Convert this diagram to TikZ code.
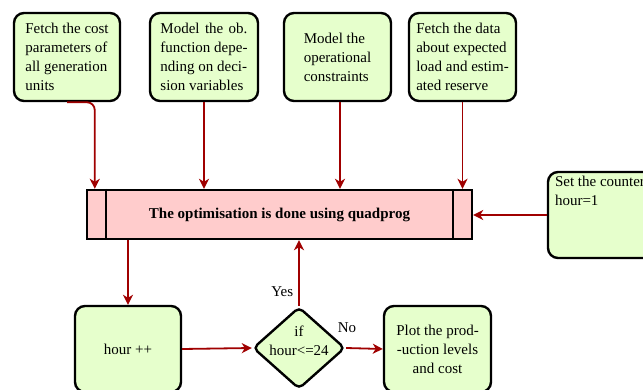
\documentclass[tikz,border=0pt]{standalone}
\usepackage{fontspec}
\setmainfont{Liberation Serif}
\usetikzlibrary{arrows.meta,shapes.geometric,calc}
\definecolor{boxgreen}{RGB}{230,255,204}
\definecolor{boxpink}{RGB}{255,204,204}
\definecolor{arrred}{RGB}{160,0,0}
\begin{document}
\begin{tikzpicture}[x=1pt,y=-1pt,
  every node/.style={font=\fontsize{15}{19}\selectfont},
  gbox/.style={draw=black, line width=2.4pt, fill=boxgreen, rounded corners=10pt,
    minimum width=106pt, minimum height=86pt, inner sep=0pt, align=left},
  pbox/.style={draw=black, line width=2.4pt, fill=boxpink, minimum width=385pt,
    minimum height=49pt, inner sep=0pt},
  dbox/.style={draw=black, line width=2.4pt, fill=boxgreen, shape=diamond,
    minimum width=92pt, minimum height=82pt, inner sep=0pt, rounded corners=5pt},
  lbl/.style={inner sep=0pt},
  arr/.style={draw=arrred, line width=1.8pt, -{Stealth[length=10pt,width=10pt,inset=3pt]}}
]
\useasboundingbox (0,0) rectangle (643,390);

% top row
\node[gbox, minimum height=88pt] (b1) at (67,57) {Fetch the cost\\parameters of\\all generation\\units};
\node[gbox, minimum width=108pt, minimum height=88pt] (b2) at (204,57) {\makebox[87pt][s]{Model the ob.}\\function depe-\\nding on deci-\\sion variables};
\node[gbox, minimum width=107pt, minimum height=88pt] (b3) at (337.5,57) {Model the\\operational\\constraints};
\node[gbox, minimum width=107pt, minimum height=88pt] (b4) at (462.5,57) {Fetch the data\\about expected\\load and estim-\\ated reserve};

% counter box
\node[gbox, minimum width=107pt] (cnt) at (601.5,215) {};
\node[lbl, anchor=north west, align=left] (cnttxt) at ($(cnt.north west)+(8,5)$) {Set the counter\\hour=1};

% process
\node[pbox] (proc) at (279.5,214.5) {\textbf{The optimisation is done using quadprog}};
\draw[line width=2.4pt] ($(proc.north west)+(20,0)$) -- ($(proc.south west)+(20,0)$);
\draw[line width=2.4pt] ($(proc.north east)+(-20,0)$) -- ($(proc.south east)+(-20,0)$);

% bottom row
\node[gbox] (hp) at (128,349) {hour ++};
\node[dbox] (dia) at (299,348) {};
\node[lbl, align=center] (diatxt) at (299,341) {if\\hour<=24};
\node[gbox, minimum width=107pt, align=center] (plot) at (437.5,349) {Plot the prod-\\-uction levels\\and cost};

% connectors
\coordinate (t1) at ($(proc.north west)+(9,0)$);
\draw[arr, rounded corners=8pt] (b1.south) -| (t1);
\draw[arr] (b2.south) -- (b2.south |- proc.north);
\draw[arr] ($(b3.south)+(2.5,0)$) -- ($(b3.south |- proc.north)+(2.5,0)$);
\draw[arr] (b4.south) -- (b4.south |- proc.north);
\draw[arr] (cnt.west) -- (cnt.west -| proc.east);
\draw[arr] (hp.north |- proc.south) -- (hp.north);
\draw[arr] (hp.east) -- (dia.west);
\draw[arr] (dia.north) -- (dia.north |- proc.south) node[lbl, pos=0.22, left=5pt] (yes) {Yes};
\draw[arr] (dia.east) -- (plot.west);
\node[lbl] (no) at (347,328) {No};
\end{tikzpicture}
\end{document}
